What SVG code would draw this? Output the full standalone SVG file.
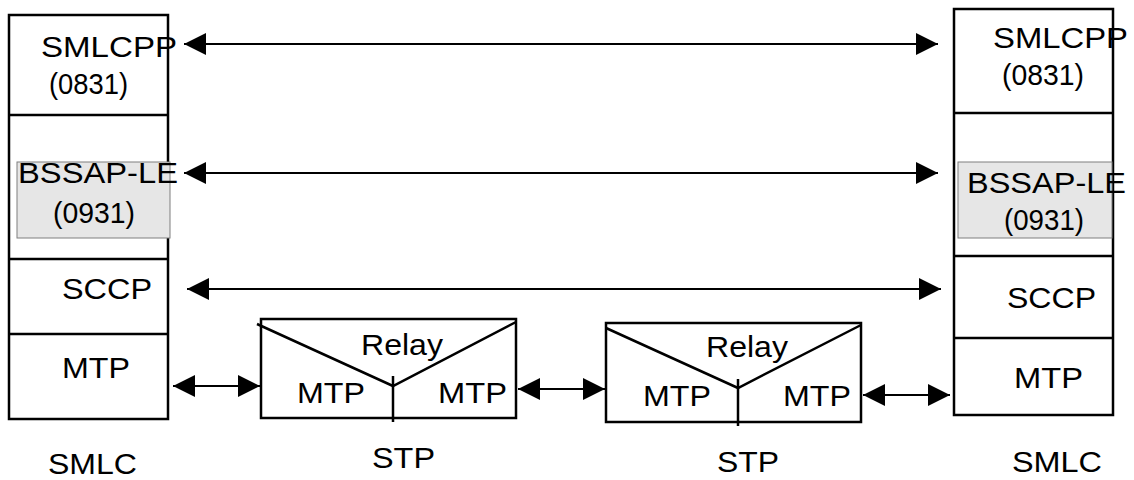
<svg xmlns="http://www.w3.org/2000/svg" width="1134" height="480" viewBox="0 0 1134 480">
<style>
  .box { fill: none; stroke: #000; stroke-width: 2.5; }
  .div { stroke: #000; stroke-width: 2.5; }
  .grey { fill: #e6e6e6; stroke: #7f7f7f; stroke-width: 1; }
  .t { font-family: "Liberation Sans", Arial, sans-serif; font-size: 29px; fill: #000; }
  .conn { stroke: #000; stroke-width: 2; fill: none; marker-start: url(#ah); marker-end: url(#ah); }
</style>
<defs>
  <marker id="ah" viewBox="0 0 22 22" refX="22" refY="11" markerWidth="22" markerHeight="22" markerUnits="userSpaceOnUse" orient="auto-start-reverse">
    <path d="M0,0 L22,11 L0,22 z" fill="#000"/>
  </marker>
</defs>
<rect width="1134" height="480" fill="#fff"/>

<g id="smlc-left">
  <rect class="box" x="9" y="15" width="159" height="404"/>
  <line class="div" x1="9" y1="115" x2="168" y2="115"/>
  <line class="div" x1="9" y1="259" x2="168" y2="259"/>
  <line class="div" x1="9" y1="334" x2="168" y2="334"/>
  <rect class="grey" x="17" y="162" width="153" height="76"/>
  <text class="t" x="41" y="57" textLength="136" lengthAdjust="spacingAndGlyphs">SMLCPP</text>
  <text class="t" x="49" y="94" textLength="79" lengthAdjust="spacingAndGlyphs">(0831)</text>
  <text class="t" x="18" y="183" textLength="160" lengthAdjust="spacingAndGlyphs">BSSAP-LE</text>
  <text class="t" x="53" y="223" textLength="82" lengthAdjust="spacingAndGlyphs">(0931)</text>
  <text class="t" x="62" y="299" textLength="90" lengthAdjust="spacingAndGlyphs">SCCP</text>
  <text class="t" x="62" y="378" textLength="68" lengthAdjust="spacingAndGlyphs">MTP</text>
  <text class="t" x="48" y="474" textLength="89" lengthAdjust="spacingAndGlyphs">SMLC</text>
</g>

<g id="smlc-right">
  <rect class="box" x="954" y="9" width="159" height="406"/>
  <line class="div" x1="954" y1="113" x2="1113" y2="113"/>
  <line class="div" x1="954" y1="256" x2="1113" y2="256"/>
  <line class="div" x1="954" y1="338" x2="1113" y2="338"/>
  <rect class="grey" x="958" y="162" width="154" height="76"/>
  <text class="t" x="993" y="48" textLength="135" lengthAdjust="spacingAndGlyphs">SMLCPP</text>
  <text class="t" x="1002" y="85" textLength="82" lengthAdjust="spacingAndGlyphs">(0831)</text>
  <text class="t" x="967" y="193" textLength="159" lengthAdjust="spacingAndGlyphs">BSSAP-LE</text>
  <text class="t" x="1004" y="230" textLength="80" lengthAdjust="spacingAndGlyphs">(0931)</text>
  <text class="t" x="1007" y="308" textLength="89" lengthAdjust="spacingAndGlyphs">SCCP</text>
  <text class="t" x="1014" y="388" textLength="69" lengthAdjust="spacingAndGlyphs">MTP</text>
  <text class="t" x="1012" y="472" textLength="90" lengthAdjust="spacingAndGlyphs">SMLC</text>
</g>

<g id="stp-1">
  <rect class="box" x="261" y="319" width="255" height="99"/>
  <polyline class="box" points="257,324 393,386 516,322"/>
  <line class="div" x1="393" y1="376" x2="393" y2="422"/>
  <text class="t" x="361" y="355" textLength="82" lengthAdjust="spacingAndGlyphs">Relay</text>
  <text class="t" x="297" y="403" textLength="68" lengthAdjust="spacingAndGlyphs">MTP</text>
  <text class="t" x="438" y="403" textLength="69" lengthAdjust="spacingAndGlyphs">MTP</text>
  <text class="t" x="372" y="468" textLength="63" lengthAdjust="spacingAndGlyphs">STP</text>
</g>

<g id="stp-2">
  <rect class="box" x="606" y="323" width="255" height="99"/>
  <polyline class="box" points="606,328 738,388 861,325"/>
  <line class="div" x1="738" y1="379" x2="738" y2="426"/>
  <text class="t" x="706" y="357" textLength="82" lengthAdjust="spacingAndGlyphs">Relay</text>
  <text class="t" x="643" y="406" textLength="68" lengthAdjust="spacingAndGlyphs">MTP</text>
  <text class="t" x="783" y="406" textLength="68" lengthAdjust="spacingAndGlyphs">MTP</text>
  <text class="t" x="717" y="472" textLength="62" lengthAdjust="spacingAndGlyphs">STP</text>
</g>

<g id="connectors">
  <line class="conn" x1="184" y1="44" x2="938" y2="44"/>
  <line class="conn" x1="184" y1="173" x2="938" y2="173"/>
  <line class="conn" x1="187" y1="289" x2="941" y2="289"/>
  <line class="conn" x1="173" y1="386" x2="260" y2="386"/>
  <line class="conn" x1="518" y1="389" x2="605" y2="389"/>
  <line class="conn" x1="863" y1="395" x2="950" y2="395"/>
</g>
</svg>
